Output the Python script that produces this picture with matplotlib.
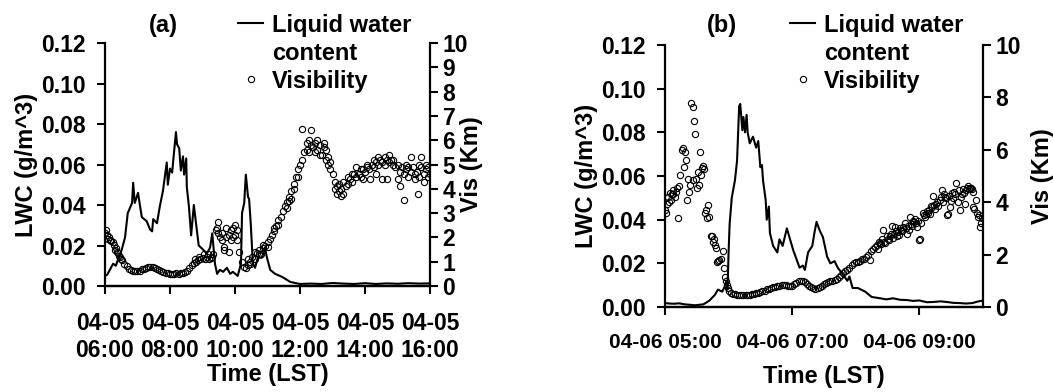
import matplotlib
matplotlib.use('Agg')
import numpy as np
import matplotlib.pyplot as plt
from matplotlib.lines import Line2D

plt.rcParams['font.family'] = ['Liberation Sans', 'DejaVu Sans']
plt.rcParams['font.weight'] = 'bold'
plt.rcParams['axes.labelweight'] = 'bold'

# ---- panel (a): 04-05, minutes after 06:00 ----
lwc_a_min = [0, 4, 9, 15, 20, 24, 31, 37, 42, 50, 52, 55, 61, 65, 68, 77, 83, 87, 89, 96,
             101, 107, 111, 114, 116, 120, 124, 126, 131, 133, 137, 140, 144, 146, 150, 151,
             155, 159, 164, 168, 173, 181, 188, 194, 198, 203, 207, 212, 218, 225, 231, 236,
             245, 251, 253, 257, 260, 264, 266, 269, 273, 277, 282, 290, 295, 299, 305, 314,
             327, 342, 360, 380, 400, 420, 440, 460, 480, 500, 520, 540, 560, 580, 600]
lwc_a = [0.005, 0.0055, 0.008, 0.011, 0.010, 0.013, 0.018, 0.024, 0.036, 0.041, 0.051, 0.041,
         0.046, 0.039, 0.034, 0.032, 0.028, 0.027, 0.033, 0.031, 0.039, 0.047, 0.055, 0.061,
         0.050, 0.058, 0.056, 0.062, 0.076, 0.070, 0.068, 0.057, 0.064, 0.055, 0.063, 0.049,
         0.039, 0.025, 0.040, 0.031, 0.020, 0.018, 0.016, 0.019, 0.026, 0.011, 0.006, 0.008,
         0.007, 0.009, 0.006, 0.007, 0.005, 0.011, 0.036, 0.041, 0.055, 0.044, 0.043, 0.031,
         0.011, 0.009, 0.014, 0.014, 0.019, 0.014, 0.008, 0.006, 0.0045, 0.002, 0.001, 0.0012,
         0.001, 0.0015, 0.0012, 0.001, 0.0014, 0.001, 0.0013, 0.0011, 0.0014, 0.0012, 0.0013]

vis_a_min = list(range(0, 601, 4)) + [
    2, 6, 10, 14, 18, 22, 26, 30, 166, 174, 182, 190, 198, 206, 208, 216, 220, 224, 228, 232,
    236, 240, 244, 264, 268, 276, 284, 292, 300, 312, 320, 336, 340, 344, 348, 356, 364, 372,
    376, 380, 388, 392, 396, 404, 408, 412, 416, 424, 428, 432, 436, 440, 448, 456, 464, 472,
    476, 484, 490, 496, 500, 504, 512, 516, 520, 524, 532, 540, 545, 552, 556, 560, 564, 572,
    578, 580, 584, 588, 592, 596]
vis_a = [2.2, 2.1, 2.0, 1.85, 1.7, 1.55, 1.35, 1.2, 1.05, 0.9, 0.82, 0.72, 0.66, 0.62, 0.6,
         0.6, 0.63, 0.68, 0.72, 0.76, 0.8, 0.8, 0.78, 0.74, 0.7, 0.66, 0.6, 0.56, 0.53, 0.52,
         0.5, 0.5, 0.5, 0.52, 0.5, 0.52, 0.53, 0.56, 0.62, 0.75, 0.85, 0.95, 1.0, 1.05, 1.1,
         1.15, 1.1, 1.2, 1.1, 1.15, 1.3, 2.3, 2.65, 2.0, 2.2, 1.6, 2.0, 1.4, 2.3, 2.0, 2.5,
         1.9, 1.4, 1.0, 0.8, 0.75, 0.85, 1.0, 1.2, 1.1, 1.35, 1.5, 1.3, 1.55, 1.65, 1.8, 1.95,
         2.1, 2.25, 2.45, 2.7, 2.85, 3.1, 3.3, 3.45, 3.65, 3.9, 4.2, 4.5, 4.8, 5.0, 5.2, 5.5,
         5.6, 5.5, 5.8, 5.7, 5.9, 5.6, 5.8, 5.4, 5.7, 5.2, 5.3, 5.1, 4.6, 4.3, 4.1, 3.9, 4.0,
         3.8, 4.1, 4.2, 4.4, 4.3, 4.6, 4.5, 4.6, 4.5, 4.8, 4.7, 4.9, 4.8, 5.0, 4.9, 5.1, 5.0,
         5.2, 5.1, 5.3, 5.2, 5.1, 5.2, 5.0, 4.9, 5.0, 4.7, 4.9, 4.6, 4.8, 4.5, 4.7, 4.9, 4.6,
         4.7, 4.5, 4.9, 4.6, 4.8, 4.5, 4.6] + [
    2.3, 1.95, 1.9, 1.8, 1.5, 1.4, 1.25, 1.1, 1.1, 1.2, 1.3, 1.3, 1.2, 2.4, 2.2, 1.9, 1.5,
    2.4, 2.1, 1.9, 2.4, 2.1, 2.3, 1.1, 0.9, 1.4, 1.3, 1.7, 1.6, 2.4, 2.5, 3.2, 3.5, 3.6,
    4.0, 4.5, 6.45, 5.9, 6.0, 6.4, 5.5, 6.0, 5.4, 5.9, 5.6, 5.0, 4.8, 4.0, 3.8, 4.2, 3.7,
    4.3, 4.5, 4.6, 4.9, 4.8, 4.4, 5.0, 4.4, 5.2, 4.6, 5.3, 4.4, 5.0, 4.4, 5.4, 5.2, 4.4,
    4.1, 3.55, 5.0, 4.9, 5.3, 4.4, 3.8, 5.0, 5.3, 4.3, 5.0, 4.9]

# ---- panel (b): 04-06, minutes after 05:00 ----
lwc_b_min = [0, 4, 9, 13, 19, 24, 28, 32, 36, 39, 42, 47, 50, 54, 56, 58, 59, 60, 61, 63,
             66, 68, 70, 71, 73, 74, 75.5, 77, 78, 80, 83, 86, 88, 90, 91.5, 92.5, 95, 96, 98,
             99, 102, 106, 108, 111, 115, 118, 121, 124, 127, 130, 132, 135, 139, 141, 143,
             146, 149, 153, 156, 160, 163, 167, 172, 174, 177, 182, 189, 195, 203, 209, 215,
             222, 228, 234, 240, 247, 253, 260, 266, 272, 278, 284, 290, 295, 300]
lwc_b = [0.0018, 0.0016, 0.0015, 0.0017, 0.0012, 0.001, 0.0008, 0.001, 0.0012, 0.002, 0.003,
         0.0055, 0.008, 0.007, 0.009, 0.012, 0.008, 0.025, 0.038, 0.050, 0.058, 0.067, 0.092,
         0.093, 0.081, 0.087, 0.080, 0.088, 0.080, 0.075, 0.078, 0.073, 0.076, 0.064, 0.065,
         0.058, 0.049, 0.040, 0.046, 0.034, 0.028, 0.025, 0.031, 0.028, 0.036, 0.031, 0.026,
         0.022, 0.018, 0.019, 0.017, 0.025, 0.028, 0.034, 0.039, 0.035, 0.032, 0.023, 0.020,
         0.021, 0.018, 0.0155, 0.012, 0.014, 0.0087, 0.0087, 0.007, 0.0046, 0.004, 0.0035,
         0.004, 0.0033, 0.0032, 0.0028, 0.003, 0.0022, 0.0023, 0.0026, 0.0023, 0.0019, 0.0018,
         0.0016, 0.0018, 0.0025, 0.003]

vis_b_min = [0, 1, 2, 3, 4, 5, 6, 7, 7.5, 8, 9, 10, 11, 12, 13, 14, 16, 17, 18, 19, 20, 21,
             22, 22.5, 24, 25, 26, 26.5, 27, 28, 29, 30, 31, 32, 33, 34, 35, 36, 37, 38, 39,
             40, 41, 42, 43, 44, 45, 46, 47, 48, 49, 50, 51, 53, 55, 56, 57, 58, 58.5, 59.4] + \
    list(range(60, 197, 2)) + [
    193, 203, 206, 212, 214, 217, 219, 223, 226, 228, 231, 234, 238, 240, 241, 242, 243, 245,
    248, 252, 253, 256, 259, 261, 264, 266, 267, 269, 271, 272, 275, 276, 278, 280, 283, 285,
    288, 290, 290.5, 292, 294, 295, 297,
    198, 200, 201, 202, 204, 205, 207, 208, 209, 210, 211, 213, 215, 216, 218, 220, 221, 222,
    224, 225, 227, 229, 230, 232, 233, 235, 236, 237, 239, 244, 246, 247, 249, 250, 251, 254,
    255, 257, 258, 260, 262, 263, 265, 268, 270, 273, 274, 277, 279, 281, 282, 284, 286, 287,
    289, 291, 293, 296, 298, 299]
vis_b = [3.7, 3.6, 3.95, 4.2, 4.0, 4.35, 4.1, 4.3, 4.45, 4.3, 4.2, 4.4, 4.55, 3.4, 4.6, 5.05,
         6.0, 6.05, 5.35, 5.9, 5.6, 4.1, 4.9, 4.4, 4.65, 7.8, 7.65, 4.85, 7.1, 6.6, 4.9, 4.55,
         5.15, 4.65, 5.9, 5.05, 5.3, 5.4, 5.25, 3.6, 3.7, 3.4, 3.9, 3.45, 2.7, 2.7, 2.5, 2.6,
         2.35, 2.25, 1.7, 1.75, 1.8, 1.85, 2.15, 1.5, 1.15, 1.0, 0.85, 0.72] + [
    0.62, 0.55, 0.5, 0.48, 0.46, 0.45, 0.45, 0.44, 0.45, 0.46, 0.47, 0.48, 0.5, 0.52, 0.54,
    0.56, 0.6, 0.63, 0.67, 0.7, 0.73, 0.76, 0.78, 0.8, 0.82, 0.84, 0.85, 0.84, 0.82, 0.8,
    0.82, 0.86, 0.92, 0.98, 1.0, 0.98, 0.94, 0.88, 0.82, 0.76, 0.72, 0.7, 0.72, 0.76, 0.82,
    0.88, 0.93, 0.97, 0.99, 1.0, 1.02, 1.08, 1.14, 1.22, 1.3, 1.36, 1.42, 1.5, 1.6, 1.68,
    1.72, 1.7, 1.75, 1.82, 1.85, 1.9, 2.0, 2.15, 2.2] + [
    1.8, 2.45, 2.95, 2.7, 3.1, 3.05, 2.7, 2.95, 3.2, 2.8, 3.45, 3.3, 3.05, 2.55, 2.6, 3.2,
    3.6, 3.45, 3.6, 3.8, 4.25, 3.95, 4.1, 4.45, 4.2, 3.5, 3.55, 3.8, 4.35, 4.15, 4.75, 4.0,
    3.7, 4.3, 3.95, 4.55, 4.55, 4.5, 3.8, 3.75, 3.6, 3.45, 3.05,
    2.3, 2.35, 2.2, 2.5, 2.4, 2.6, 2.5, 2.45, 2.7, 2.6, 2.55, 2.8, 2.65, 2.8, 2.9, 2.85,
    2.75, 3.0, 2.9, 3.05, 3.0, 3.1, 2.95, 3.15, 3.1, 3.25, 3.35, 3.2, 3.3, 3.5, 3.55, 3.65,
    3.7, 3.55, 3.85, 3.9, 3.75, 4.0, 3.85, 4.2, 4.0, 4.3, 4.15, 4.25, 4.05, 4.4, 4.3, 4.45,
    4.2, 4.5, 4.35, 4.45, 4.6, 4.5, 4.55, 4.4, 4.1, 3.5, 3.2, 3.4]

ticks_a = [6, 8, 10, 12, 14, 16]
tick_labels_a = ['04-05\n06:00', '04-05\n08:00', '04-05\n10:00', '04-05\n12:00',
                 '04-05\n14:00', '04-05\n16:00']
ticks_b = [5, 7, 9]
tick_labels_b = ['04-06 05:00', '04-06 07:00', '04-06 09:00']

FS_TICK = 16.5
FS_LAB = 17

fig = plt.figure(figsize=(10.53, 3.92), dpi=100)
ax_a = fig.add_axes([0.0997, 0.2704, 0.3087, 0.6199])
ax_b = fig.add_axes([0.6315, 0.2168, 0.3020, 0.6684])


def panel(ax, t0, lwc_t, lwc, vis_t, vis, xlim, ticks, labels, xfs, xpad, xlabpad,
          vis_step, title, title_y, leg_x, right_pad):
    ax.plot(t0 + np.array(lwc_t) / 60.0, lwc, color='black', lw=1.5)
    ax.set_xlim(*xlim)
    ax.set_ylim(0, 0.12)
    ax.set_yticks(np.arange(0, 0.121, 0.02))
    ax.set_yticklabels(['%.2f' % v for v in np.arange(0, 0.121, 0.02)])
    ax.set_xticks(ticks)
    ax.set_xticklabels(labels)
    ax.tick_params(axis='both', labelsize=FS_TICK, width=1.5, length=6, direction='out')
    ax.tick_params(axis='y', pad=8)
    ax.tick_params(axis='x', pad=xpad, labelsize=xfs)
    ax.set_ylabel('LWC (g/m^3)', fontsize=FS_LAB, labelpad=2)
    ax.set_xlabel('Time (LST)', fontsize=FS_LAB, labelpad=xlabpad)
    for s in ['top', 'right']:
        ax.spines[s].set_visible(False)
    for s in ['left', 'bottom']:
        ax.spines[s].set_linewidth(1.6)

    ax2 = ax.twinx()
    ax2.plot(t0 + np.array(vis_t) / 60.0, vis, 'o', ms=4.5, mfc='none', mec='black',
             mew=0.8)
    ax2.set_ylim(0, 10)
    ax2.set_yticks(np.arange(0, 10.1, vis_step))
    ax2.set_yticklabels(['%d' % v for v in np.arange(0, 10.1, vis_step)])
    ax2.tick_params(axis='y', labelsize=FS_TICK, width=1.5, length=6, pad=3)
    ax2.set_ylabel('Vis (Km)', fontsize=FS_LAB, labelpad=right_pad)
    ax2.spines['top'].set_visible(False)
    ax2.spines['left'].set_visible(False)
    ax2.spines['right'].set_linewidth(1.6)
    ax2.spines['bottom'].set_linewidth(1.6)

    ax.text(0.18, title_y, title, transform=ax.transAxes, ha='center', va='baseline',
            fontsize=FS_LAB)

    handles = [Line2D([], [], color='black', lw=1.5),
               Line2D([], [], linestyle='none'),
               Line2D([], [], marker='o', linestyle='none', ms=4.5, mfc='none',
                      mec='black', mew=0.8)]
    ax2.legend(handles, ['Liquid water', 'content', 'Visibility'], loc='upper left',
               bbox_to_anchor=(leg_x, 0.965), bbox_transform=fig.transFigure,
               frameon=False, prop={'size': FS_LAB, 'weight': 'bold'},
               handlelength=1.06, handletextpad=0.38, labelspacing=0.21,
               borderpad=0, borderaxespad=0)


panel(ax_a, 6, lwc_a_min, lwc_a, vis_a_min, vis_a, (6, 16), ticks_a, tick_labels_a,
      FS_TICK, 13, 1, 1, '(a)', 1.045, 238 / 1053, -6)
panel(ax_b, 5, lwc_b_min, lwc_b, vis_b_min, vis_b, (5, 10), ticks_b, tick_labels_b,
      15, 13, 9, 2, '(b)', 1.05, 790 / 1053, 7)

fig.savefig('out.png', dpi=100)
